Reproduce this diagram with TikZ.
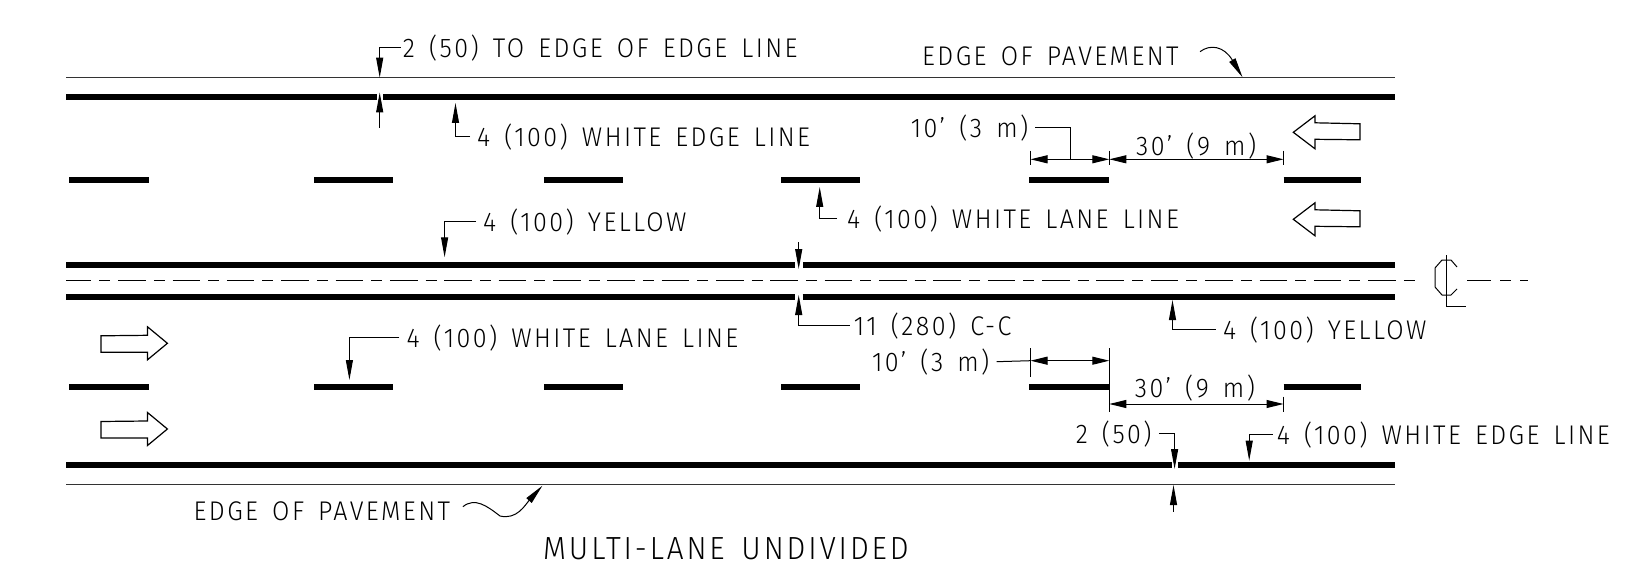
\documentclass[tikz,border=0pt]{standalone}
\usepackage{fontspec}
\setmainfont[FakeStretch=0.93,LetterSpace=9,WordSpace=1.5]{Fira Sans Light}
\usetikzlibrary{arrows.meta}
\begin{document}
\begin{tikzpicture}[x=1pt,y=-1pt,
		lbl/.style={anchor=west,inner xsep=7pt,inner ysep=0pt,text height=20pt,text depth=0pt,font=\fontsize{27}{27}\selectfont},
		ttl/.style={anchor=west,inner sep=0pt,text height=23pt,text depth=0pt,font=\fontsize{32}{32}\selectfont},
		stripe/.style={line width=6pt},
		edgeline/.style={line width=1pt,draw=black!80},
		leader/.style={line width=1pt,-{Stealth[inset=0pt,length=20pt,width=7pt]}},
		dimline/.style={line width=1pt,{Stealth[inset=0pt,length=17pt,width=8pt]}-{Stealth[inset=0pt,length=17pt,width=8pt]}},
		tick/.style={line width=0.8pt},
		blockarrow/.style={line width=1.2pt,line join=miter}
		]
		\useasboundingbox (0,0) rectangle (1633,572);
		% pavement edges
		\draw[edgeline] (66,77.7) -- (1394.5,77.7);
		\draw[edgeline] (66,484) -- (1394.5,484);
		% solid stripes, broken where a dimension passes through
		\foreach \y/\a/\b in {96.7/376.6/383.4,265.3/795/803,296.7/795/802.5,465.3/1171.5/1177.7}{
			\draw[stripe] (66,\y) -- (\a,\y);
			\draw[stripe] (\b,\y) -- (1394.5,\y);
		}
		% lane lines
		\foreach \y in {180,387}{
			\foreach \a/\b in {69/149,314/393.3,544/623,781/860.4,1029/1109,1283.5/1360.5}{
				\draw[stripe] (\a,\y) -- (\b,\y);
			}
		}
		% center line
		\coordinate (C0) at (66.4,280.8);
		\coordinate (C1) at (1416.7,280.8);
		\coordinate (C2) at (1467,280.8);
		\coordinate (C3) at (1528.6,280.8);
		\draw[line width=1.2pt,dash pattern=on 27.6pt off 8pt on 11pt off 7.75pt,dash phase=2.6pt] (C0) -- (C1);
		\draw[line width=1.2pt,dash pattern=on 24pt off 9pt on 11pt off 9pt on 8pt off 50pt] (C2) -- (C3);
		\draw[line width=1pt] (1446.7,255) -- (1446.7,306) -- (1466,306);
		\draw[line width=1pt] (1457,267) -- (1451,260) -- (1442,260) -- (1435,268) -- (1435,287) -- (1442,295) -- (1451,295) -- (1457,289);
		% traffic arrows
		\foreach \y in {132.3,219.3}{
			\draw[blockarrow] (1293.3,\y) -- (1315,\y-16.5) -- (1315,\y-9.5) -- (1360,\y-8.5) -- (1360,\y+7.5) -- (1315,\y+7) -- (1315,\y+16.5) -- cycle;
		}
		\foreach \y in {343.3,429}{
			\draw[blockarrow] (167.4,\y) -- (147.5,\y-16.5) -- (147.5,\y-8) -- (101,\y-7.5) -- (101,\y+9) -- (147.5,\y+9) -- (147.5,\y+16.5) -- cycle;
		}
		% labels
		\node[lbl](L1) at (395.7,48){2 (50) TO EDGE OF EDGE LINE};
		\node[lbl](L2) at (915,56){EDGE OF PAVEMENT};
		\node[lbl](L3) at (470,136.7){4 (100) WHITE EDGE LINE};
		\node[lbl](L4) at (903.7,127.3){10' (3 m)};
		\node[lbl](L5) at (1129,145.7){30' (9 m)};
		\node[lbl](L6) at (840,219){4 (100) WHITE LANE LINE};
		\node[lbl](L7) at (476,221.7){4 (100) YELLOW};
		\node[lbl](L8) at (846.7,325){11 (280) C-C};
		\node[lbl](L9) at (1215.8,329){4 (100) YELLOW};
		\node[lbl](L10) at (399.4,337.7){4 (100) WHITE LANE LINE};
		\node[lbl](L11) at (864.8,361.7){10' (3 m)};
		\node[lbl](L12) at (1127.7,387.3){30' (9 m)};
		\node[lbl](L13) at (1068.6,433.3){2 (50)};
		\node[lbl](L14) at (1269.7,434){4 (100) WHITE EDGE LINE};
		\node[lbl](L15) at (186.5,510){EDGE OF PAVEMENT};
		\node[ttl](L16) at (543,548.3){MULTI-LANE UNDIVIDED};
		% leader ends
		\coordinate (T1) at (379.7,77.7);
		\coordinate (T2) at (455.5,103);
		\coordinate (T3) at (1070.4,159.3);
		\coordinate (T4) at (819.7,187);
		\coordinate (T5) at (444.6,257.3);
		\coordinate (T6) at (798.7,295);
		\coordinate (T7) at (1172.5,300);
		\coordinate (T8) at (349.4,380);
		\coordinate (T9) at (1174.6,469);
		\coordinate (T10) at (1249.2,460.7);
		\draw[leader] ([xshift=5pt]L1.west) -| (T1);
		\draw[leader] (L3.west) -| (T2);
		\draw[line width=1pt] (L4.east) -| (T3);
		\draw[leader] ([xshift=-3pt]L6.west) -| (T4);
		\draw[leader] (L7.west) -| (T5);
		\draw[leader] ([xshift=3pt]L8.west) -| (T6);
		\draw[leader] (L9.west) -| (T7);
		\draw[leader] (L10.west) -| (T8);
		\draw[leader] (L13.east) -| (T9);
		\draw[leader] ([xshift=3pt]L14.west) -| (T10);
		% free arrows from below and above
		\coordinate (U1) at (379.7,128);
		\coordinate (U2) at (379.7,92.5);
		\coordinate (U3) at (798.7,242.3);
		\coordinate (U4) at (798.7,269);
		\coordinate (U5) at (1173.5,511.7);
		\coordinate (U6) at (1173.5,485);
		\draw[leader] (U1) -- (U2);
		\draw[leader] (U3) -- (U4);
		\draw[leader] (U5) -- (U6);
		% curved pointers
		\coordinate (E1) at (1200,51.7);
		\coordinate (E2) at (1242.5,77.3);
		\coordinate (E3) at (462.9,506.7);
		\coordinate (E4) at (542.4,485.7);
		\draw[leader] (E1) .. controls (1210,44) and (1224,46) .. (E2);
		\draw[leader] (E3) .. controls (475,497) and (487,506) .. (500,516) .. controls (517,520) and (525,505) .. (E4);
		% top dimension
		\coordinate (D1) at (1030.5,159.3);
		\coordinate (D2) at (1109.3,159.3);
		\coordinate (D3) at (1283.5,159.3);
		\draw[dimline] (D1) -- (D2);
		\draw[dimline] (D2) -- (D3);
		\draw[tick] (1030.5,150.7) -- (1030.5,165);
		\draw[tick] (1109.3,150.7) -- (1109.3,165);
		\draw[tick] (1283.5,150.7) -- (1283.5,165);
		% bottom dimensions
		\coordinate (D4) at (1030.5,360.7);
		\coordinate (D5) at (1109.3,360.7);
		\coordinate (D6) at (1109.3,404);
		\coordinate (D7) at (1283.5,404);
		\draw[line width=1pt] (L11.east) -- (D4);
		\draw[dimline] (D4) -- (D5);
		\draw[dimline] (D6) -- (D7);
		\draw[tick] (1030.5,348.3) -- (1030.5,376.7);
		\draw[tick] (1109.3,348.3) -- (1109.3,412.3);
		\draw[tick] (1283.5,396.7) -- (1283.5,412.3);
	\end{tikzpicture}
\end{document}
